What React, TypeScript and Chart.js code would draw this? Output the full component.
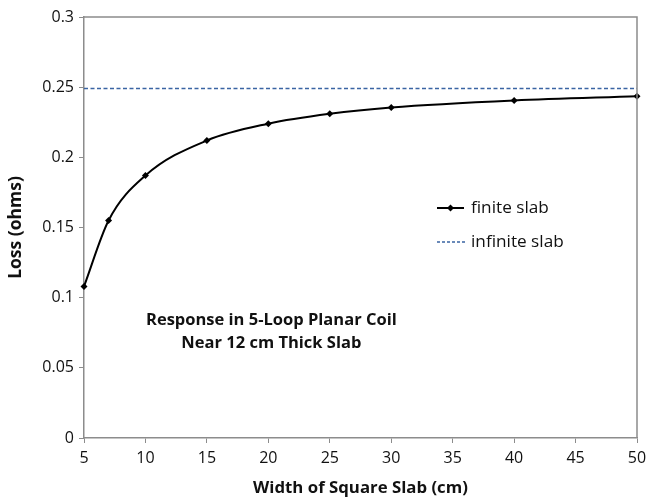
import React, { useEffect, useRef } from "react";
import { Chart, registerables } from "chart.js";

Chart.register(...registerables);

const widths = [5, 7, 10, 15, 20, 25, 30, 40, 50];
const finiteLoss = [0.108, 0.155, 0.187, 0.212, 0.224, 0.231, 0.2355, 0.2405, 0.2435];
const infiniteWidths = [5, 50];
const infiniteLoss = [0.249, 0.249];
const legendLabels = ["finite slab", "infinite slab"];
const noteLines = ["Response in 5-Loop Planar Coil", "Near 12 cm Thick Slab"];
const xTitle = "Width of Square Slab (cm)";
const yTitle = "Loss (ohms)";

const FONT = "'Open Sans', Lato, sans-serif";
const AXIS_GRAY = "#8c8c8c";
const BLUE = "#3a64a3";
const TEXT = "#111";

const overlay = {
  id: "overlay",
  afterDraw(chart: any) {
    const { ctx, chartArea } = chart;
    ctx.save();
    ctx.strokeStyle = AXIS_GRAY;
    ctx.lineWidth = 1.5;
    ctx.beginPath();
    ctx.moveTo(chartArea.left, chartArea.top);
    ctx.lineTo(chartArea.right, chartArea.top);
    ctx.lineTo(chartArea.right, chartArea.bottom);
    ctx.stroke();

    const lx = 437;
    const ly1 = 208;
    const ly2 = 242;
    ctx.strokeStyle = "#000";
    ctx.lineWidth = 2;
    ctx.beginPath();
    ctx.moveTo(lx, ly1);
    ctx.lineTo(lx + 27, ly1);
    ctx.stroke();
    ctx.fillStyle = "#000";
    ctx.beginPath();
    const cx = lx + 13.5;
    ctx.moveTo(cx, ly1 - 3.5);
    ctx.lineTo(cx + 3.5, ly1);
    ctx.lineTo(cx, ly1 + 3.5);
    ctx.lineTo(cx - 3.5, ly1);
    ctx.closePath();
    ctx.fill();
    ctx.strokeStyle = BLUE;
    ctx.lineWidth = 1.5;
    ctx.setLineDash([3, 2]);
    ctx.beginPath();
    ctx.moveTo(lx, ly2);
    ctx.lineTo(lx + 28, ly2);
    ctx.stroke();
    ctx.setLineDash([]);
    ctx.fillStyle = TEXT;
    ctx.font = `17.2px ${FONT}`;
    ctx.textBaseline = "middle";
    ctx.textAlign = "left";
    ctx.fillText(legendLabels[0], 471, ly1);
    ctx.fillText(legendLabels[1], 471, ly2);

    ctx.font = `bold 16.5px ${FONT}`;
    ctx.textAlign = "left";
    ctx.fillText(noteLines[0], 146, 320);
    ctx.textAlign = "center";
    const w1 = ctx.measureText(noteLines[0]).width;
    ctx.fillText(noteLines[1], 146 + w1 / 2, 343);
    ctx.restore();
  },
};

export default function App() {
  const ref = useRef<HTMLCanvasElement>(null);
  useEffect(() => {
    document.body.style.margin = "0";
    const chart = new Chart(ref.current!, {
      type: "line",
      data: {
        datasets: [
          {
            label: legendLabels[0],
            data: widths.map((x, i) => ({ x, y: finiteLoss[i] })),
            borderColor: "#000",
            backgroundColor: "#000",
            borderWidth: 2,
            pointStyle: "rectRot",
            pointRadius: 3.5,
            pointBorderWidth: 0,
            cubicInterpolationMode: "monotone",
            clip: false as any,
          },
          {
            label: legendLabels[1],
            data: infiniteWidths.map((x, i) => ({ x, y: infiniteLoss[i] })),
            borderColor: BLUE,
            borderWidth: 1.5,
            borderDash: [4, 2.5],
            pointRadius: 0,
          },
        ],
      },
      options: {
        responsive: false,
        animation: false,
        layout: { padding: { top: 17, right: 10, left: 0, bottom: 0 } },
        plugins: { legend: { display: false }, tooltip: { enabled: false } },
        scales: {
          x: {
            type: "linear",
            min: 5,
            max: 50,
            ticks: { stepSize: 5, color: TEXT, font: { family: FONT, size: 16 }, padding: 6 },
            grid: { drawOnChartArea: false, drawTicks: true, tickLength: 5, color: AXIS_GRAY },
            border: { color: AXIS_GRAY, width: 1.5 },
            title: { display: true, text: xTitle, color: TEXT, font: { family: FONT, size: 16.8, weight: "bold" }, padding: { top: 0, bottom: 0 } },
            afterFit(scale: any) { scale.height = 60; scale.paddingRight = 0; scale.paddingLeft = 0; },
          },
          y: {
            min: 0,
            max: 0.3,
            ticks: {
              stepSize: 0.05,
              color: TEXT,
              font: { family: FONT, size: 16 },
              padding: 5,
              callback: (v: any) => String(Math.round(Number(v) * 100) / 100),
            },
            grid: { drawOnChartArea: false, drawTicks: true, tickLength: 5, color: AXIS_GRAY },
            border: { color: AXIS_GRAY, width: 1.5 },
            title: { display: true, text: yTitle, color: TEXT, font: { family: FONT, size: 17.5, weight: "bold" }, padding: { top: 6, bottom: 0 } },
            afterFit(scale: any) { scale.width = 84; scale.paddingTop = 0; scale.paddingBottom = 0; },
          },
        },
      },
      plugins: [overlay],
    } as any);
    return () => chart.destroy();
  }, []);
  return (
    <div style={{ width: 647, height: 498 }}>
      <canvas ref={ref} width={647} height={498} />
    </div>
  );
}
